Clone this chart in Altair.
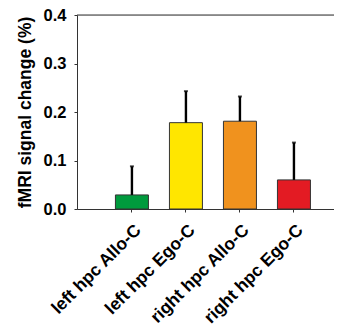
import altair as alt
import pandas as pd

categories = ["left hpc Allo-C", "left hpc Ego-C", "right hpc Allo-C", "right hpc Ego-C"]
values = [0.029, 0.178, 0.181, 0.060]
errors = [0.059, 0.065, 0.051, 0.077]
colors = ["#009a3d", "#ffe600", "#f0921e", "#e31b23"]
y_ticks = [0.0, 0.1, 0.2, 0.3, 0.4]

df = pd.DataFrame({
    "cat": categories,
    "val": values,
    "upper": [v + e for v, e in zip(values, errors)],
})

FONT = "Liberation Sans"
AX = "#333333"

xscale = alt.Scale(domain=categories, paddingInner=0.389, paddingOuter=0.574, align=0.62)
yscale = alt.Scale(domain=[0, 0.4], nice=False)

x = alt.X("cat:N", scale=xscale, sort=categories, title=None,
          axis=alt.Axis(labelAngle=-45, labelFont=FONT, labelFontSize=17.5, labelFontWeight="bold",
                        labelColor="black", domainColor=AX, tickColor=AX, tickSize=3,
                        labelPadding=9, labelLimit=300))
y = alt.Y("val:Q", scale=yscale, title="fMRI signal change (%)",
          axis=alt.Axis(values=y_ticks, format=".1f", grid=False, labelFont=FONT, labelFontSize=16.5,
                        labelFontWeight="bold", labelColor="black", domainColor=AX, tickColor=AX,
                        tickSize=3, labelPadding=8, titleFont=FONT, titleFontSize=17.5,
                        titleFontWeight="bold", titleColor="black", titlePadding=9))

base = alt.Chart(df)

bars = base.mark_bar(stroke=AX, strokeWidth=1).encode(
    x=x, y=y,
    color=alt.Color("cat:N", scale=alt.Scale(domain=categories, range=colors), legend=None),
)
err = base.mark_rule(color="black", strokeWidth=2.4).encode(
    x=alt.X("cat:N", scale=xscale, sort=categories),
    y="val:Q", y2="upper:Q",
)
cap = base.mark_tick(color="black", thickness=2, size=4).encode(
    x=alt.X("cat:N", scale=xscale, sort=categories),
    y=alt.Y("upper:Q", scale=yscale),
)
top = alt.Chart(pd.DataFrame({"t": [0.4]})).mark_rule(color=AX, strokeWidth=1).encode(
    y=alt.Y("t:Q", scale=yscale)
)

chart = alt.layer(bars, err, cap, top).properties(
    width=257, height=194,
    autosize=alt.AutoSizeParams(type="none"),
    padding={"left": 69, "top": 7, "right": 0, "bottom": 116},
).configure_view(stroke=None).configure(background="white")

chart.save("out.html", embed_options={"renderer": "svg", "actions": False})
